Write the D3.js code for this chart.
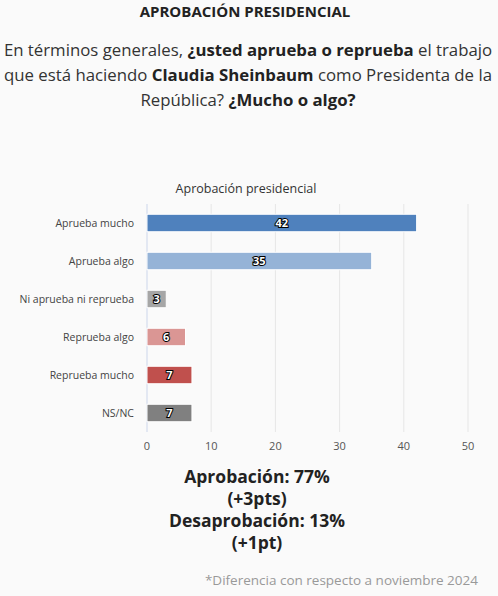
<!DOCTYPE html>
<html><head><meta charset="utf-8">
<script src="https://cdn.jsdelivr.net/npm/d3@7"></script>
<style>body{margin:0;background:#fafafa;font-family:"Open Sans",sans-serif;}</style>
</head><body><svg id="c" width="498" height="596"></svg>
<script>
const categories=["Aprueba mucho","Aprueba algo","Ni aprueba ni reprueba","Reprueba algo","Reprueba mucho","NS/NC"];
const values=[42,35,3,6,7,7];
const colors=["#4f81bd","#95b3d7","#a6a6a6","#da9694","#c0504d","#808080"];
const ticks=[0,10,20,30,40,50];
const svg=d3.select("#c");
svg.append("rect").attr("width",498).attr("height",596).attr("fill","#fafafa");
svg.append("text").attr("x",245).attr("y",17).attr("text-anchor","middle").attr("font-size",15).attr("font-weight","bold").attr("fill","#222").text("APROBACIÓN PRESIDENCIAL");
const q=svg.append("text").attr("text-anchor","middle").attr("font-size",16.8).attr("fill","#333");
q.append("tspan").attr("x",248).attr("y",56).text("En términos generales, ").append("tspan").attr("font-weight","bold").attr("fill","#222").text("¿usted aprueba o reprueba");
q.append("tspan").text(" el trabajo");
q.append("tspan").attr("x",248).attr("y",81).text("que está haciendo ");
q.append("tspan").attr("font-weight","bold").attr("fill","#222").text("Claudia Sheinbaum");
q.append("tspan").text(" como Presidenta de la");
q.append("tspan").attr("x",248).attr("y",106).text("República? ");
q.append("tspan").attr("font-weight","bold").attr("fill","#222").text("¿Mucho o algo?");
svg.append("text").attr("x",246).attr("y",193).attr("text-anchor","middle").attr("font-size",12.5).attr("fill","#333").text("Aprobación presidencial");
const x=d3.scaleLinear().domain([0,50]).range([147,468]);
const y=d3.scaleBand().domain(categories).range([204,432]).paddingInner(0.54).paddingOuter(0.27);
svg.append("g").selectAll("line").data(ticks).join("line").attr("x1",d=>x(d)).attr("x2",d=>x(d)).attr("y1",204).attr("y2",432).attr("stroke",d=>d===0?"#ccd6eb":"#e6e6e6");
svg.append("g").selectAll("text").data(ticks).join("text").attr("x",d=>x(d)).attr("y",450).attr("text-anchor","middle").attr("font-size",11).attr("fill","#555").text(d=>d);
svg.append("g").selectAll("text").data(categories).join("text").attr("x",134).attr("y",d=>y(d)+y.bandwidth()/2+4).attr("text-anchor","end").attr("font-size",10.5).attr("fill","#444").text(d=>d);
svg.append("g").selectAll("rect").data(values).join("rect").attr("x",x(0)).attr("y",(d,i)=>y(categories[i])).attr("width",d=>x(d)-x(0)).attr("height",y.bandwidth()).attr("fill",(d,i)=>colors[i]).attr("stroke","#fff").attr("stroke-width",1);
svg.append("g").selectAll("text").data(values).join("text").attr("x",d=>(x(d)+x(0))/2).attr("y",(d,i)=>y(categories[i])+y.bandwidth()/2+4).attr("text-anchor","middle").attr("font-size",11).attr("font-weight","bold").attr("fill","#fff").attr("stroke","#000").attr("stroke-width",2).attr("paint-order","stroke").text(d=>d);
const sum=["Aprobación: 77%","(+3pts)","Desaprobación: 13%","(+1pt)"];
svg.append("g").selectAll("text").data(sum).join("text").attr("x",257).attr("y",(d,i)=>483+i*22).attr("text-anchor","middle").attr("font-size",17.5).attr("font-weight","bold").attr("fill","#222").text(d=>d);
svg.append("text").attr("x",478).attr("y",585).attr("text-anchor","end").attr("font-size",13.5).attr("fill","#999").text("*Diferencia con respecto a noviembre 2024");
</script></body></html>
